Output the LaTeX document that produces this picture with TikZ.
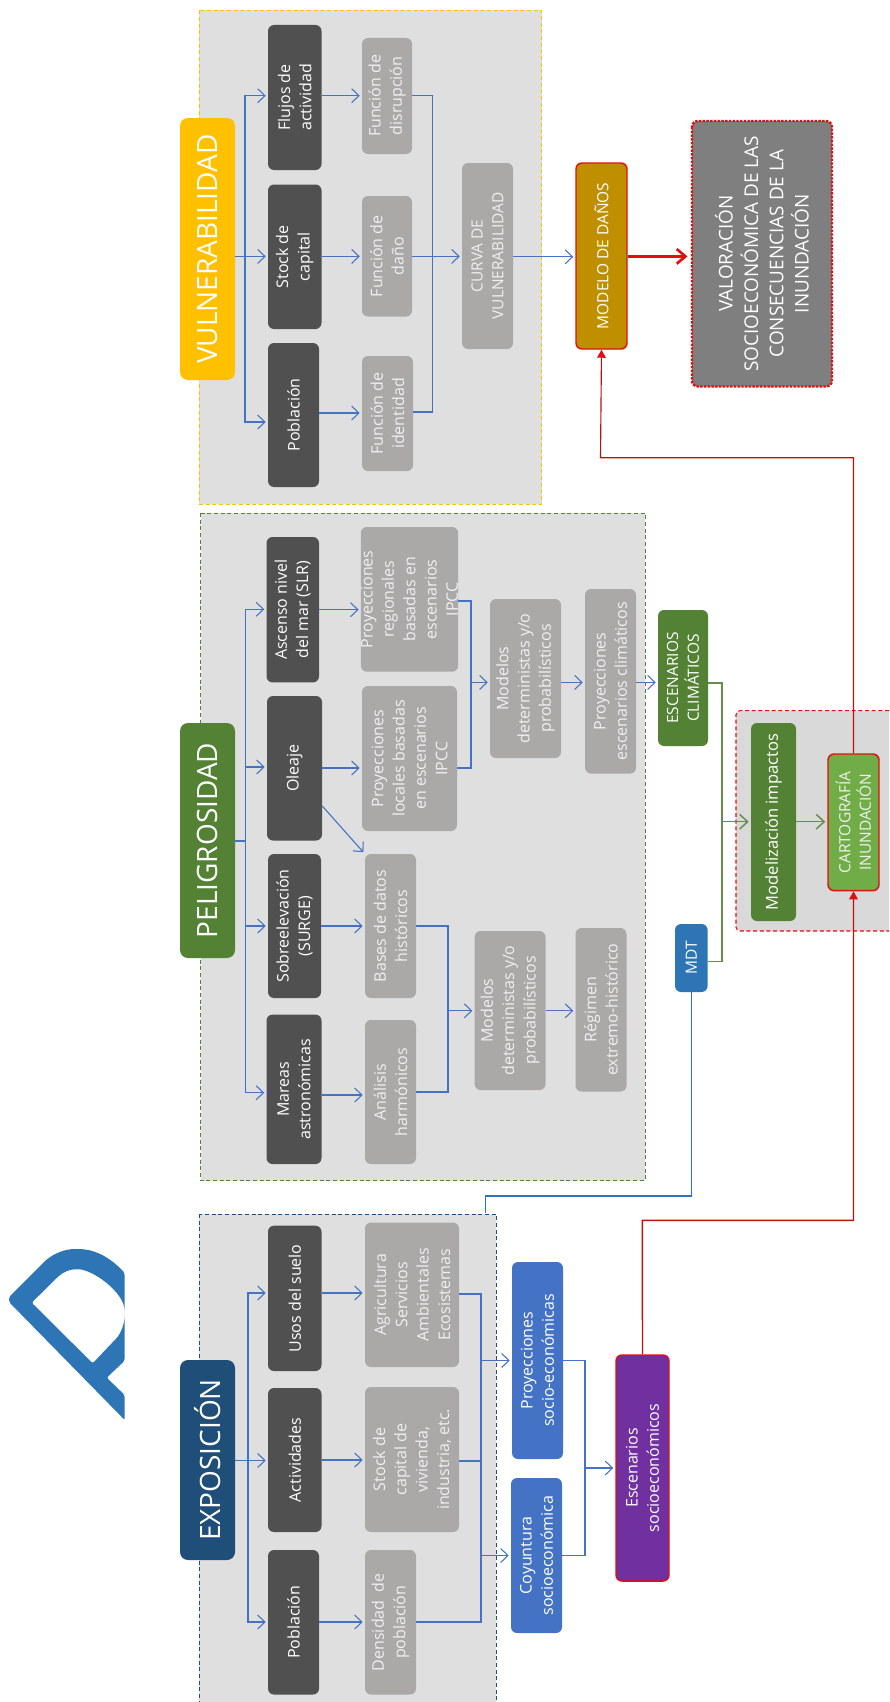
\documentclass[tikz,border=0pt]{standalone}
\usepackage{fontspec}
\setmainfont{Open Sans}
\usetikzlibrary{arrows.meta,calc}
\definecolor{panelc}{HTML}{DFDFDF}
\definecolor{panelr}{HTML}{D9D9D9}
\definecolor{darkb}{HTML}{505050}
\definecolor{greyb}{HTML}{ABA8A8}
\definecolor{bluec}{HTML}{4472C4}
\definecolor{yel}{HTML}{FFC000}
\definecolor{grn}{HTML}{548235}
\definecolor{navy}{HTML}{1F4E79}
\definecolor{purp}{HTML}{7030A0}
\definecolor{gold}{HTML}{BF8F00}
\definecolor{mdtc}{HTML}{2E75B6}
\definecolor{lgrn}{HTML}{70AD47}
\definecolor{valc}{HTML}{7F7F7F}
\definecolor{redc}{HTML}{E01010}
\definecolor{txtg}{HTML}{F0F0F0}
\tikzset{
 x=0.75pt,y=-0.75pt,
 boxbase/.style={rotate=90,rounded corners=4.5pt,inner sep=0pt,align=center,text=white,font=\fontsize{12}{16}\selectfont},
 darkbox/.style={boxbase,fill=darkb,text=white},
 greybox/.style={boxbase,fill=greyb,text=txtg},
 titlebox/.style={boxbase,rounded corners=6pt,font=\fontsize{21}{27}\selectfont},
 bluebox/.style={boxbase,fill=bluec},
 capsbox/.style={boxbase,font=\fontsize{11.6}{15.5}\selectfont},
 arr/.style={draw=bluec,line width=0.8pt,shorten >=1.5pt,-{Straight Barb[length=5.5pt,width=10.5pt,line width=0.8pt]}},
 lin/.style={draw=bluec,line width=0.8pt},
 garr/.style={draw=grn!90!white,line width=1.1pt,shorten >=1.5pt,-{Straight Barb[length=6pt,width=11pt,line width=1.1pt]}},
 glin/.style={draw=grn!90!white,line width=1.1pt},
 rarr/.style={draw=redc!85!black,line width=0.85pt,-{Triangle[length=6pt,width=6.5pt,fill=redc,color=redc]}},
 panel/.style={fill=panelc,densely dashed,line width=0.6pt},
}
\newcommand\bx[7]{%
 \pgfmathsetlengthmacro\bxw{(#5-#3)*0.75pt}%
 \pgfmathsetlengthmacro\bxh{(#4-#2)*0.75pt}%
 \node[#6,minimum width=\bxw,minimum height=\bxh] (#1) at ({(#2+#4)/2},{(#3+#5)/2}) {#7};}
\newcommand\pan[6]{\path[panel,#6] (#2,#3) rectangle (#4,#5) coordinate (#1);}
\begin{document}
\begin{tikzpicture}
\useasboundingbox (0,0) rectangle (889,1702);
% logo
\begin{scope}
\fill[mdtc,even odd rule,rounded corners=1.5pt]
 (124.7,1273) .. controls (108,1255) and (92,1249) .. (76.7,1249)
 .. controls (64,1249) and (52,1254) .. (42,1264)
 -- (9,1297) -- (9,1302) -- (124.7,1420) -- (124.7,1395) -- (106.7,1377.7) -- (124.7,1360.7) -- cycle
 (31.7,1302.7) -- (56.7,1278) .. controls (63,1272) and (70,1269.3) .. (76.7,1269.3)
 .. controls (92,1269.3) and (124.7,1292) .. (124.7,1313)
 .. controls (124.7,1322) and (122,1331) .. (116.7,1338) -- (92.7,1363.3) -- cycle;
\end{scope}
% panels
\pan{pV}{199}{10.5}{541.5}{504}{draw=yel}
\pan{pP}{200.7}{513}{645}{1180.6}{draw=grn}
\pan{pE}{199}{1214}{496}{1702}{draw=navy}
\path[fill=panelr,densely dashed,line width=0.8pt,draw=redc,rounded corners=3pt] (889,710.7) -- (736,710.7) -- (736,931) -- (889,931);
% VULNERABILIDAD
\bx{tV}{180}{118}{235}{380}{titlebox,fill=yel}{VULNERABILIDAD}
\bx{vF}{268}{25}{321.5}{170}{darkbox}{Flujos de\\actividad}
\bx{vS}{268}{184.5}{321.5}{329}{darkbox}{Stock de\\capital}
\bx{vP}{268}{343}{319}{487}{darkbox}{Población}
\bx{fD}{362}{38}{412}{154}{greybox}{Función de\\disrupción}
\bx{fS}{362}{196}{412}{316.5}{greybox}{Función de\\daño}
\bx{fI}{362}{356}{413}{471}{greybox}{Función de\\identidad}
\bx{cV}{462}{163}{513}{349}{greybox,font=\fontsize{11.6}{15.5}\selectfont}{CURVA DE\\VULNERABILIDAD}
\bx{mD}{576}{163}{627}{349}{capsbox,fill=gold,draw=redc,line width=1.1pt}{MODELO DE DAÑOS}
\bx{vA}{692}{121}{832}{386.5}{boxbase,fill=valc,draw=redc,densely dotted,line width=1.8pt,font=\fontsize{14.2}{19}\selectfont}{VALORACIÓN\\SOCIOECONÓMICA DE LAS\\CONSECUENCIAS DE LA\\INUNDACIÓN}
\coordinate (jV) at (245,256.4);
\draw[lin] (tV.south |- jV) -- (jV);
\draw[arr] (jV) |- (vF.north |- 0,95.7);
\draw[arr] (jV) -- (vS.north |- jV);
\draw[arr] (jV) |- (vP.north |- 0,422);
\draw[arr] (vF.south |- 0,95.7) -- (fD.north |- 0,95.7);
\draw[arr] (vS.south |- 0,256.4) -- (fS.north |- 0,256.4);
\draw[arr] (vP.south |- 0,413) -- (fI.north |- 0,413);
\coordinate (cvj) at (432.6,256.4);
\draw[lin] (fD.south |- 0,95.7) -| (cvj);
\draw[lin] (fI.south |- 0,412) -| (cvj);
\draw[arr] (fS.south |- cvj) -- (cV.north |- cvj);
\draw[arr] (cV.south |- 0,256.8) -- (mD.north |- 0,256.8);
\draw[draw=redc,line width=2pt,shorten >=2.5pt,-{Straight Barb[length=6.5pt,width=11pt,line width=2pt]}] (mD.south |- 0,256.4) -- (vA.north |- 0,256.4);
% PELIGROSIDAD
\bx{tP}{180}{723}{235}{958}{titlebox,fill=grn}{PELIGROSIDAD}
\bx{pA}{266.5}{537}{319}{682.4}{darkbox}{Ascenso nivel\\del mar (SLR)}
\bx{pO}{267}{696}{322}{840.5}{darkbox}{Oleaje}
\bx{pS}{268}{854}{321}{998}{darkbox}{Sobreelevación\\(SURGE)}
\bx{pM}{266.5}{1014.6}{321.5}{1164}{darkbox}{Mareas\\astronómicas}
\bx{gR}{362}{527}{457}{671.7}{greybox}{Proyecciones\\regionales\\basadas en\\escenarios\\IPCC}
\bx{gL}{362}{686}{457}{831}{greybox}{Proyecciones\\locales basadas\\en escenarios\\IPCC}
\bx{gB}{365}{854}{416}{998}{greybox}{Bases de datos\\históricos}
\bx{gH}{365}{1020}{416}{1164}{greybox}{Análisis\\harmónicos}
\bx{mA}{490}{599}{561}{758}{greybox}{Modelos\\deterministas y/o\\probabilísticos}
\bx{pC}{585}{589}{636}{773.5}{greybox}{Proyecciones\\escenarios climáticos}
\bx{mB}{474.6}{931}{545.5}{1090}{greybox}{Modelos\\deterministas y/o\\probabilísticos}
\bx{rE}{575.5}{928}{626.5}{1091.5}{greybox}{Régimen\\extremo-histórico}
\bx{eC}{658}{610}{708}{746}{capsbox,fill=grn}{ESCENARIOS\\CLIMÁTICOS}
\bx{mT}{675}{924}{707.6}{992}{capsbox,fill=mdtc}{MDT}
\bx{mI}{751}{723}{796}{921}{boxbase,fill=grn,font=\fontsize{12.4}{16}\selectfont}{Modelización impactos}
\bx{cI}{828}{754}{879}{890.6}{capsbox,fill=lgrn,draw=redc,line width=1.1pt,text=txtg}{CARTOGRAFÍA\\INUNDACIÓN}
\coordinate (jP) at (245.5,841);
\draw[lin] (tP.south |- jP) -- (jP);
\draw[arr] (jP) |- (pA.north |- 0,609.3);
\draw[arr] (jP |- 0,767) -- (pO.north |- 0,767);
\draw[arr] (jP |- 0,926) -- (pS.north |- 0,926);
\draw[arr] (jP) |- (pM.north |- 0,1092.7);
\draw[arr] (pA.south |- 0,609.7) -- (gR.north |- 0,609.7);
\draw[arr] (pO.south |- 0,768) -- (gL.north |- 0,768);
\draw[arr] (pS.south |- 0,926) -- (gB.north |- 0,926);
\draw[arr] (pM.south |- 0,1095) -- (gH.north |- 0,1095);
\draw[arr] (pO.south |- 0,806) -- (gB.north east);
\coordinate (c1) at (471,682.4);
\draw[lin] (gR.south |- 0,601) -| (c1);
\draw[lin] (gL.south |- 0,768) -| (c1);
\draw[arr] (c1) -- (mA.north |- c1);
\draw[arr] (mA.south |- c1) -- (pC.north |- c1);
\draw[arr] (pC.south |- c1) -- (eC.north |- c1);
\coordinate (c2) at (448,1010.8);
\draw[lin] (gB.south |- 0,926) -| (c2);
\draw[lin] (gH.south |- 0,1092) -| (c2);
\draw[arr] (c2) -- (mB.north |- c2);
\draw[arr] (mB.south |- c2) -- (rE.north |- c2);
\coordinate (g1) at (722,821.7);
\draw[glin] (eC.south |- 0,683) -| (g1);
\draw[glin] (mT.south |- 0,961.4) -| (g1);
\draw[garr] (g1) -- (mI.north |- g1);
\draw[garr] (mI.south |- g1) -- (cI.north |- g1);
\coordinate (mdj) at (485.4,1195.8);
\draw[draw=mdtc,line width=1.2pt] (mT.west |- 0,992) -- (mT.west |- mdj) -- (mdj) -- (mdj |- 0,1213.4);
% red lines
\coordinate (rj) at (600.5,457.7);
\draw[rarr] (cI.east) -- (cI.east |- rj) -- (rj) -- (mD.west);
% EXPOSICION
\bx{tE}{180}{1360}{235}{1560}{titlebox,fill=navy}{EXPOSICIÓN}
\bx{eU}{268}{1225.7}{321.5}{1371}{darkbox}{Usos del suelo}
\bx{eA}{268}{1388}{321.5}{1532}{darkbox}{Actividades}
\bx{eP}{268}{1550}{319}{1694.5}{darkbox}{Población}
\bx{gA}{365}{1222.5}{459}{1367}{greybox}{Agricultura\\Servicios\\Ambientales\\Ecosistemas}
\bx{gS}{365}{1387}{459}{1532}{greybox}{Stock de\\capital de\\vivienda,\\industria, etc.}
\bx{gD}{365}{1550}{416}{1694.5}{greybox}{Densidad\ \ de\\población}
\bx{bP}{512}{1262}{563}{1459}{bluebox}{Proyecciones\\socio-económicas}
\bx{bC}{511}{1478}{562}{1633}{bluebox}{Coyuntura\\socioeconómica}
\bx{bE}{616}{1355}{669}{1581}{boxbase,fill=purp,draw=redc,line width=1.1pt}{Escenarios\\socioeconómicos}
\coordinate (jE) at (248,1460.5);
\draw[lin] (tE.south |- jE) -- (jE);
\draw[arr] (jE) |- (eU.north |- 0,1293);
\draw[arr] (jE) -- (eA.north |- jE);
\draw[arr] (jE) |- (eP.north |- 0,1622);
\draw[arr] (eU.south |- 0,1293) -- (gA.north |- 0,1293);
\draw[arr] (eA.south |- 0,1460) -- (gS.north |- 0,1460);
\draw[arr] (eP.south |- 0,1622) -- (gD.north |- 0,1622);
\coordinate (c3) at (481,1360.5);
\coordinate (c4) at (481,1555.5);
\draw[lin] (gA.south |- 0,1294) -| (c4);
\draw[lin] (gS.south |- 0,1461) -- (c4 |- 0,1461);
\draw[lin] (gD.south |- 0,1622) -| (c4);
\draw[arr] (c3) -- (bP.north |- c3);
\draw[arr] (c4) -- (bC.north |- c4);
\coordinate (c5) at (585,1468);
\draw[lin] (bP.south |- 0,1360.5) -| (c5);
\draw[lin] (bC.south |- 0,1555.5) -| (c5);
\draw[arr] (c5) -- (bE.north |- c5);
\coordinate (rk) at (642.4,1220.4);
\draw[rarr,line width=1.1pt] (bE.east) -- (rk) -| (cI.west);
\end{tikzpicture}
\end{document}
